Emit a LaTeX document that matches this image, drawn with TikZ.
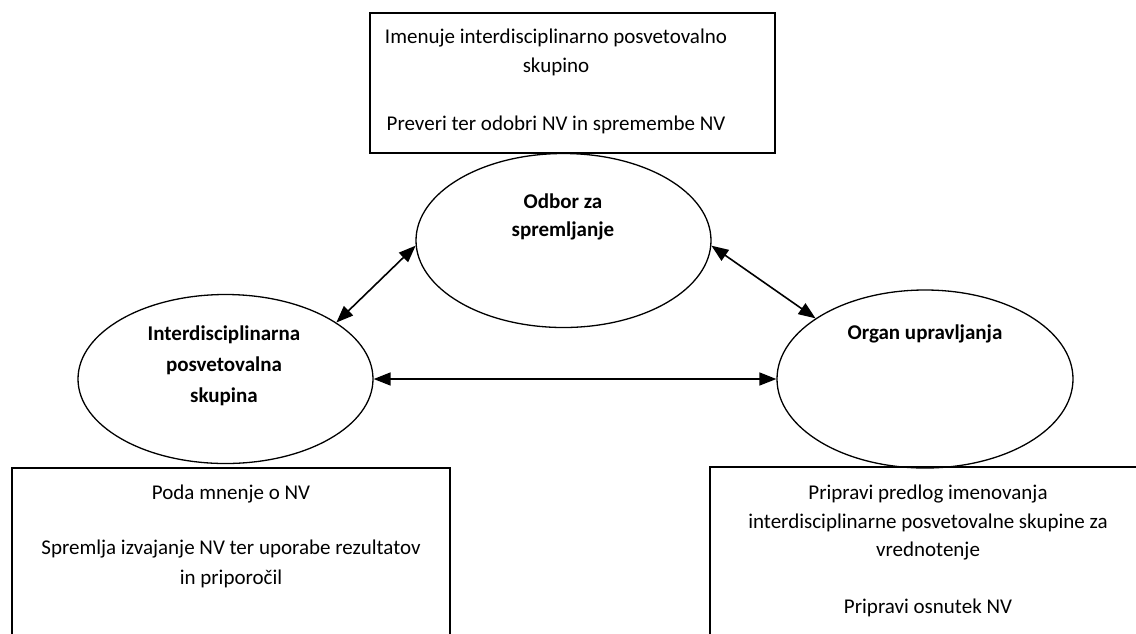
\documentclass[tikz,border=0pt]{standalone}
\usepackage{fontspec}
\setmainfont{Carlito}
\usetikzlibrary{shapes.geometric,arrows.meta}
\begin{document}
\begin{tikzpicture}[x=1pt,y=-1pt,
  boxframe/.style={draw=black,line width=1.3pt},
  ell/.style={draw=black,line width=1.3pt,ellipse,inner sep=0pt},
  txt/.style={anchor=north,inner sep=0pt,align=center,font=\fontsize{21}{29}\selectfont},
  btxt/.style={anchor=north,inner sep=0pt,align=center,font=\fontsize{21}{29}\selectfont\bfseries},
  link/.style={line width=1.6pt,{Triangle[length=17pt,width=13pt]}-{Triangle[length=17pt,width=13pt]}}
]
\useasboundingbox (0,0) rectangle (1136,633);
\clip (0,0) rectangle (1136,633);
\fill[white] (0,0) rectangle (1136,633);

% top box
\node[boxframe,minimum width=405pt,minimum height=140pt,inner sep=0pt] (topbox) at (572.5,83) {};
\node[txt] (toptext) at (556,29) {Imenuje interdisciplinarno posvetovalno\\skupino\\[29pt]Preveri ter odobri NV in spremembe NV};

% ellipses
\node[ell,minimum width=295pt,minimum height=174pt] (odbor) at (563.5,240.5) {};
\node[btxt,font=\fontsize{21}{28}\selectfont\bfseries] (odbortext) at (563,194) {Odbor za\\spremljanje};

\node[ell,minimum width=295pt,minimum height=169pt] (isk) at (225.5,379) {};
\node[btxt,font=\fontsize{21}{31}\selectfont\bfseries] (isktext) at (224,326) {Interdisciplinarna\\posvetovalna\\skupina};

\node[ell,minimum width=296pt,minimum height=178pt] (organ) at (925,379) {};
\node[btxt] (organtext) at (925,325) {Organ upravljanja};

% bottom boxes
\draw[boxframe] (12,650) -- (12,468) -- (450,468) -- (450,650);
\node[txt,font=\fontsize{21}{29.5}\selectfont] (ltext) at (231,485) {Poda mnenje o NV\\[25.5pt]Spremlja izvajanje NV ter uporabe rezultatov\\in priporočil};

\draw[boxframe] (710,650) -- (710,467) -- (1150,467) -- (1150,650);
\node[txt,font=\fontsize{21}{28.5}\selectfont] (rtext) at (928,485) {Pripravi predlog imenovanja\\interdisciplinarne posvetovalne skupine za\\vrednotenje\\[28.5pt]Pripravi osnutek NV};

% connectors
\draw[link] (isk.27) -- (odbor.182);
\draw[link] (odbor.358) -- (organ.151);
\draw[link] (isk.east) -- (organ.west);
\end{tikzpicture}
\end{document}
